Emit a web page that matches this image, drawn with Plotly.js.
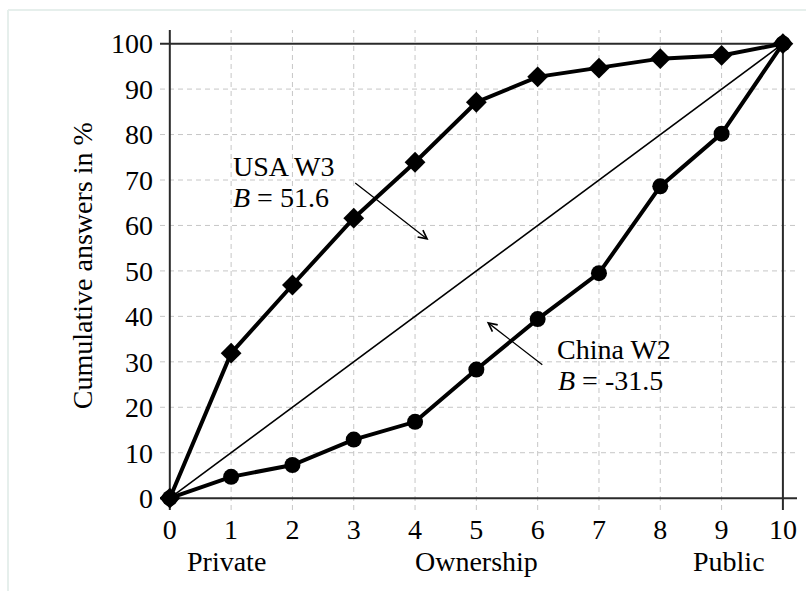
<!DOCTYPE html>
<html>
<head>
<meta charset="utf-8">
<script src="https://cdn.plot.ly/plotly-3.0.1.min.js"></script>
<style>html,body{margin:0;padding:0;background:#fff;}#chart{width:806px;height:591px;}</style>
</head>
<body>
<div id="chart"></div>
<script>
const ownership = [0, 1, 2, 3, 4, 5, 6, 7, 8, 9, 10];
const usaW3 = [0, 31.9, 46.9, 61.6, 73.9, 87.1, 92.7, 94.6, 96.7, 97.4, 100];
const chinaW2 = [0, 4.7, 7.3, 12.9, 16.8, 28.3, 39.4, 49.5, 68.6, 80.2, 100];
const equalityX = [0, 10];
const equalityY = [0, 100];
const xTickLabels = ['0','1','2','3','4','5','6','7','8','9','10'];
const yTickVals = [0,10,20,30,40,50,60,70,80,90,100];
const scaleLabels = ['Private', 'Ownership', 'Public'];
const scaleLabelX = [0.93, 5, 9.12];

const FONT = '"Liberation Serif", "Times New Roman", Times, serif';

const traces = [
  {x: equalityX, y: equalityY, mode: 'lines', line: {color: '#000', width: 1.6}, hoverinfo: 'skip', showlegend: false},
  {x: ownership, y: chinaW2, mode: 'lines+markers', line: {color: '#000', width: 4}, marker: {symbol: 'circle', size: 16, color: '#000'}, showlegend: false, name: 'China W2'},
  {x: ownership, y: usaW3, mode: 'lines+markers', line: {color: '#000', width: 4}, marker: {symbol: 'diamond', size: 16, color: '#000'}, showlegend: false, name: 'USA W3'}
];

const tf = {family: FONT, size: 28, color: '#000'};
const annotations = [
  {x: 1.0, y: 72.9, xref: 'x', yref: 'y', text: 'USA W3', showarrow: false, xanchor: 'left', yanchor: 'middle', font: tf},
  {x: 1.0, y: 66.1, xref: 'x', yref: 'y', text: '<i>B</i> = 51.6', showarrow: false, xanchor: 'left', yanchor: 'middle', font: tf},
  {x: 6.28, y: 32.8, xref: 'x', yref: 'y', text: 'China W2', showarrow: false, xanchor: 'left', yanchor: 'middle', font: tf},
  {x: 6.3, y: 25.8, xref: 'x', yref: 'y', text: '<i>B</i> = -31.5', showarrow: false, xanchor: 'left', yanchor: 'middle', font: tf},
  {x: 4.22, y: 56.8, ax: 3.0, ay: 69.6, xref: 'x', yref: 'y', axref: 'x', ayref: 'y', text: '', showarrow: true, arrowhead: 5, arrowsize: 1.3, arrowwidth: 1.3, arrowcolor: '#000', standoff: 0},
  {x: 5.17, y: 38.8, ax: 6.1, ay: 29.1, xref: 'x', yref: 'y', axref: 'x', ayref: 'y', text: '', showarrow: true, arrowhead: 5, arrowsize: 1.3, arrowwidth: 1.3, arrowcolor: '#000', standoff: 0},
  {x: -0.1225, y: 0.51, xref: 'paper', yref: 'paper', text: 'Cumulative answers in %', textangle: -90, showarrow: false, xanchor: 'center', yanchor: 'middle', font: tf}
];
scaleLabels.forEach((t, i) => annotations.push({x: scaleLabelX[i], y: -0.108, xref: 'x', yref: 'paper', text: t, showarrow: false, xanchor: 'center', yanchor: 'middle', font: tf}));

const GRID = '#c6c6c6';
const AX = '#2a2a2a';
const shapes = [];
// dashed grid lines at interior ticks (below everything)
ownership.slice(1, -1).forEach(v => shapes.push({type: 'line', xref: 'x', yref: 'paper', x0: v, x1: v, y0: 0, y1: 1, line: {color: GRID, width: 1, dash: '5px,4px'}, layer: 'below'}));
yTickVals.slice(1, -1).forEach(v => shapes.push({type: 'line', xref: 'paper', yref: 'y', x0: 0, x1: 1, y0: v, y1: v, line: {color: GRID, width: 1, dash: '5px,4px'}, layer: 'below'}));
// axis frame lines
shapes.push(
  {type: 'line', xref: 'x', yref: 'paper', x0: 0, x1: 0, y0: 0, y1: 1, line: {color: AX, width: 2}, layer: 'below'},
  {type: 'line', xref: 'paper', yref: 'y', x0: 0, x1: 1, y0: 0, y1: 0, line: {color: AX, width: 2}, layer: 'below'},
  {type: 'line', xref: 'paper', yref: 'y', x0: 0, x1: 0.9795, y0: 100, y1: 100, line: {color: AX, width: 2}, layer: 'below'},
  {type: 'line', xref: 'x', yref: 'paper', x0: 10, x1: 10, y0: 0, y1: 0.9708, line: {color: AX, width: 2}, layer: 'below'},
  {type: 'line', xref: 'paper', yref: 'paper', x0: -0.2386, x1: 1.02, y0: 1.0417, y1: 1.0417, line: {color: '#e6efec', width: 2}},
  {type: 'line', xref: 'paper', yref: 'paper', x0: -0.2386, x1: -0.2386, y0: 1.0417, y1: -0.2, line: {color: '#e6efec', width: 2}}
);

const layout = {
  width: 806, height: 591,
  margin: {l: 160, r: 9, t: 30, b: 81, pad: 0},
  paper_bgcolor: '#fff', plot_bgcolor: '#fff',
  font: tf,
  showlegend: false,
  xaxis: {
    range: [-0.16, 10.23], tickvals: ownership, ticktext: xTickLabels,
    showgrid: false, zeroline: false, showline: false,
    ticks: '', ticklabelstandoff: 0,
    tickfont: tf
  },
  yaxis: {
    range: [-2.6, 103], tickvals: yTickVals,
    showgrid: false, zeroline: false, showline: false,
    ticks: '', ticklabelstandoff: 6,
    tickfont: tf
  },
  annotations: annotations,
  shapes: shapes
};

Plotly.newPlot('chart', traces, layout, {displayModeBar: false, staticPlot: true});
</script>
</body>
</html>
